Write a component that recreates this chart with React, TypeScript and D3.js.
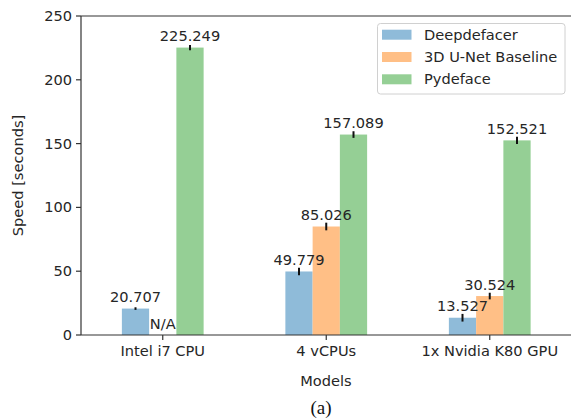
import React from "react";
import * as d3 from "d3";

const categories = ["Intel i7 CPU", "4 vCPUs", "1x Nvidia K80 GPU"];
const seriesNames = ["Deepdefacer", "3D U-Net Baseline", "Pydeface"];
const deepdefacer = [20.707, 49.779, 13.527];
const unetBaseline = [0, 85.026, 30.524];
const pydeface = [225.249, 157.089, 152.521];
const deepdefacerErr = [0.4, 3, 3];
const unetErr = [0, 3, 2.6];
const pydefaceErr = [2, 2.6, 2.8];
const valueLabels = [
  ["20.707", "49.779", "13.527"],
  ["N/A", "85.026", "30.524"],
  ["225.249", "157.089", "152.521"],
];
const yTicks = [0, 50, 100, 150, 200, 250];
const colors = ["#8fbbd9", "#ffbf86", "#95cf95"];

const W = 571;
const H = 419;
const left = 81;
const right = 571.5;
const top = 16;
const bottom = 335;
const font = "DejaVu Sans, sans-serif";
const fs = 14.6;
const txt = "#262626";
const axisCol = "#333";

export default function App() {
  const x = d3.scaleLinear().domain([-0.5, 2.5]).range([left, right]);
  const y = d3.scaleLinear().domain([0, 250]).range([bottom, top]);
  const unit = x(1) - x(0);
  const bw = unit / 6;
  const values = [deepdefacer, unetBaseline, pydeface];
  const errs = [deepdefacerErr, unetErr, pydefaceErr];

  return (
    <svg
      width={W}
      height={H}
      style={{ position: "fixed", left: 0, top: 0, background: "#fff" }}
      fontFamily={font}
    >
      <rect x={0} y={0} width={W} height={H} fill="#fff" />
      {/* bars */}
      {values.map((vals, si) =>
        vals.map((v, ci) => {
          const cx = x(ci) + (si - 1) * bw;
          return (
            <rect
              key={`b${si}-${ci}`}
              x={cx - bw / 2}
              y={y(v)}
              width={bw}
              height={y(0) - y(v)}
              fill={colors[si]}
            />
          );
        })
      )}
      {/* error bars */}
      {values.map((vals, si) =>
        vals.map((v, ci) => {
          const e = errs[si][ci];
          if (v === 0) return null;
          const cx = x(ci) + (si - 1) * bw;
          return (
            <line
              key={`e${si}-${ci}`}
              x1={cx}
              x2={cx}
              y1={y(v - e) + (e < 1 ? 0.8 : 0)}
              y2={y(v + e) - (e < 1 ? 0.8 : 0)}
              stroke="#111"
              strokeWidth={2}
            />
          );
        })
      )}
      {/* value labels */}
      {values.map((vals, si) =>
        vals.map((v, ci) => {
          const cx = x(ci) + (si - 1) * bw;
          return (
            <text
              key={`l${si}-${ci}`}
              x={cx}
              y={y(v) - 6.5}
              fontSize={fs}
              textAnchor="middle"
              fill={txt}
            >
              {valueLabels[si][ci]}
            </text>
          );
        })
      )}
      {/* spines */}
      <line x1={left} x2={left} y1={top} y2={bottom} stroke={axisCol} strokeWidth={1.2} />
      <line x1={left} x2={right} y1={top} y2={top} stroke={axisCol} strokeWidth={1.2} />
      <line x1={left} x2={right} y1={bottom} y2={bottom} stroke={axisCol} strokeWidth={1.2} />
      {/* y ticks */}
      {yTicks.map((t) => (
        <g key={`yt${t}`}>
          <line x1={left - 5} x2={left} y1={y(t)} y2={y(t)} stroke={axisCol} strokeWidth={1.2} />
          <text x={left - 9} y={y(t) + 5} fontSize={fs} textAnchor="end" fill={txt}>
            {t}
          </text>
        </g>
      ))}
      {/* x ticks */}
      {categories.map((c, ci) => (
        <g key={`xt${ci}`}>
          <line x1={x(ci)} x2={x(ci)} y1={bottom} y2={bottom + 5} stroke={axisCol} strokeWidth={1.2} />
          <text x={x(ci)} y={356} fontSize={fs} textAnchor="middle" fill={txt}>
            {c}
          </text>
        </g>
      ))}
      {/* axis labels */}
      <text x={326} y={386} fontSize={fs} textAnchor="middle" fill={txt}>
        Models
      </text>
      <text
        transform={`translate(23, ${(top + bottom) / 2}) rotate(-90)`}
        fontSize={fs}
        textAnchor="middle"
        fill={txt}
      >
        Speed [seconds]
      </text>
      <text
        x={321}
        y={414}
        fontSize={19}
        textAnchor="middle"
        fill="#111"
        fontFamily="Liberation Serif, Times New Roman, serif"
      >
        (a)
      </text>
      {/* legend */}
      <rect
        x={377.5}
        y={23.5}
        width={187.5}
        height={70.5}
        rx={3}
        fill="#fff"
        fillOpacity={0.8}
        stroke="#d0d0d0"
        strokeWidth={1}
      />
      {seriesNames.map((n, i) => {
        const cy = 34.7 + i * 22.3;
        return (
          <g key={`lg${i}`}>
            <rect x={382} y={cy - 5} width={29.5} height={10} fill={colors[i]} />
            <text x={424} y={cy + 5} fontSize={fs} fill={txt}>
              {n}
            </text>
          </g>
        );
      })}
    </svg>
  );
}
